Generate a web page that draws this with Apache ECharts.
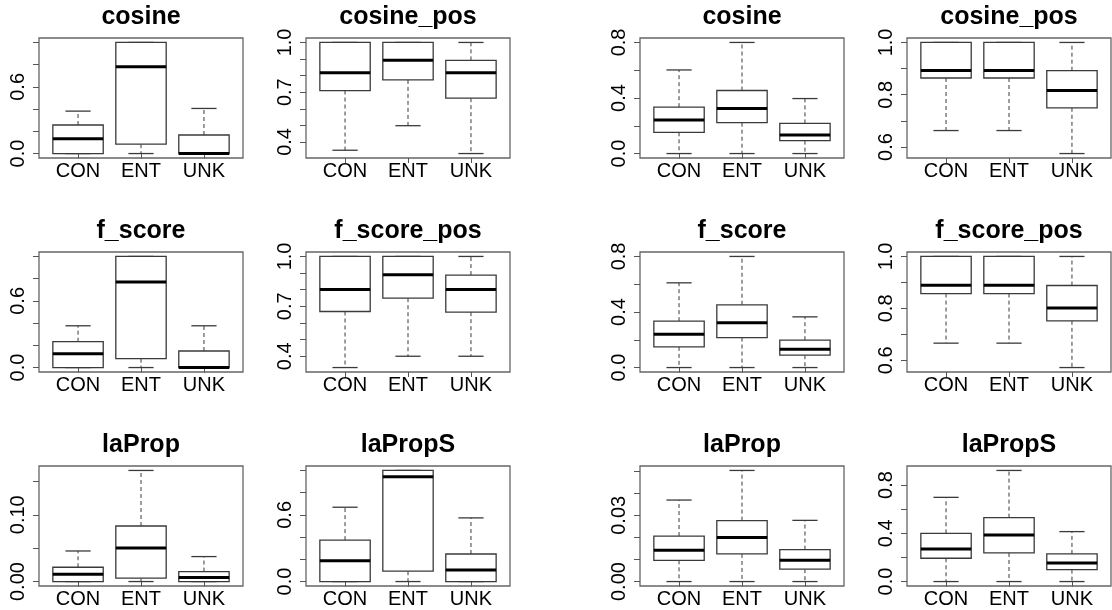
<!DOCTYPE html>
<html>
<head>
<meta charset="utf-8">
<script src="https://cdn.jsdelivr.net/npm/echarts@6/dist/echarts.min.js"></script>
<style>
  html, body { margin: 0; padding: 0; background: #fff; }
  #chart { width: 1112px; height: 610px; }
</style>
</head>
<body>
<div id="chart"></div>
<script>
// groups on the x axis of every panel
const groups = ['CON', 'ENT', 'UNK'];

// panel titles, row by row (left pair, right pair)
const titles = ['cosine', 'cosine_pos', 'cosine', 'cosine_pos',
  'f_score', 'f_score_pos', 'f_score', 'f_score_pos',
  'laProp', 'laPropS', 'laProp', 'laPropS'];

// box stats per group: [lower whisker, Q1, median, Q3, upper whisker]
const cosineL = [[0, 0, 0.134, 0.257, 0.382], [0, 0.084, 0.782, 1, 1], [0, 0, 0, 0.167, 0.406]];
const cosinePosL = [[0.35, 0.71, 0.818, 1, 1], [0.498, 0.774, 0.892, 1, 1], [0.33, 0.664, 0.818, 0.892, 1]];
const cosineR = [[0, 0.153, 0.241, 0.334, 0.602], [0, 0.222, 0.325, 0.454, 0.8], [0, 0.093, 0.134, 0.217, 0.396]];
const cosinePosR = [[0.663, 0.864, 0.893, 1, 1], [0.663, 0.864, 0.893, 1, 1], [0.575, 0.75, 0.816, 0.892, 1]];
const fScoreL = [[0, 0, 0.125, 0.233, 0.376], [0, 0.08, 0.77, 1, 1], [0, 0, 0, 0.149, 0.376]];
const fScorePosL = [[0.332, 0.669, 0.801, 1, 1], [0.4, 0.749, 0.89, 1, 1], [0.4, 0.665, 0.801, 0.888, 1]];
const fScoreR = [[0, 0.149, 0.24, 0.334, 0.61], [0, 0.216, 0.322, 0.452, 0.8], [0, 0.089, 0.132, 0.197, 0.365]];
const fScorePosR = [[0.666, 0.857, 0.889, 1, 1], [0.666, 0.857, 0.889, 1, 1], [0.572, 0.752, 0.801, 0.888, 1]];
const laPropL = [[0, 0, 0.011, 0.0214, 0.0458], [0, 0.005, 0.0503, 0.0832, 0.1664], [0, 0, 0.006, 0.015, 0.0374]];
const laPropSL = [[0, 0, 0.188, 0.373, 0.669], [0, 0.093, 0.943, 1, 1], [0, 0, 0.104, 0.248, 0.573]];
const laPropR = [[0, 0.0096, 0.0142, 0.0206, 0.0369], [0, 0.0125, 0.0199, 0.0276, 0.0503], [0, 0.0056, 0.0096, 0.0145, 0.0277]];
const laPropSR = [[0, 0.193, 0.27, 0.4, 0.698], [0, 0.237, 0.386, 0.53, 0.921], [0, 0.099, 0.154, 0.229, 0.414]];

const panels = [cosineL, cosinePosL, cosineR, cosinePosR,
  fScoreL, fScorePosL, fScoreR, fScorePosR,
  laPropL, laPropSL, laPropR, laPropSR];

// y tick marks and the labels R kept
const yTicks = [
  [0, 0.2, 0.4, 0.6, 0.8, 1.0], [0.4, 0.5, 0.6, 0.7, 0.8, 0.9, 1.0],
  [0, 0.2, 0.4, 0.6, 0.8], [0.6, 0.7, 0.8, 0.9, 1.0],
  [0, 0.2, 0.4, 0.6, 0.8, 1.0], [0.4, 0.5, 0.6, 0.7, 0.8, 0.9, 1.0],
  [0, 0.2, 0.4, 0.6, 0.8], [0.6, 0.7, 0.8, 0.9, 1.0],
  [0, 0.05, 0.10, 0.15], [0, 0.2, 0.4, 0.6, 0.8, 1.0],
  [0, 0.01, 0.02, 0.03, 0.04, 0.05], [0, 0.2, 0.4, 0.6, 0.8]
];
const yLabels = [
  ['0.0', '0.6'], ['0.4', '0.7', '1.0'], ['0.0', '0.4', '0.8'], ['0.6', '0.8', '1.0'],
  ['0.0', '0.6'], ['0.4', '0.7', '1.0'], ['0.0', '0.4', '0.8'], ['0.6', '0.8', '1.0'],
  ['0.00', '0.10'], ['0.0', '0.6'], ['0.00', '0.03'], ['0.0', '0.4', '0.8']
];

const colLeft = [39, 306, 640, 907];
const rowTop = [38, 252, 466];
const W = 204, H = 120;
const font = '"Liberation Sans", Arial, Helvetica, sans-serif';

function renderBox(params, api) {
  const x = api.value(0);
  const lo = api.coord([x, api.value(1)]);
  const q1 = api.coord([x, api.value(2)]);
  const md = api.coord([x, api.value(3)]);
  const q3 = api.coord([x, api.value(4)]);
  const hi = api.coord([x, api.value(5)]);
  const bw = api.size([0.8, 0])[0];
  const sw = api.size([0.4, 0])[0];
  const cx = lo[0];
  const boxStroke = { stroke: '#3a3a3a', lineWidth: 1.3 };
  return {
    type: 'group',
    children: [
      { type: 'line', shape: { x1: cx, y1: q3[1], x2: cx, y2: hi[1] }, style: { stroke: '#3a3a3a', lineWidth: 1, lineDash: [4, 3] } },
      { type: 'line', shape: { x1: cx, y1: q1[1], x2: cx, y2: lo[1] }, style: { stroke: '#3a3a3a', lineWidth: 1, lineDash: [4, 3] } },
      { type: 'line', shape: { x1: cx - sw / 2, y1: hi[1], x2: cx + sw / 2, y2: hi[1] }, style: boxStroke },
      { type: 'line', shape: { x1: cx - sw / 2, y1: lo[1], x2: cx + sw / 2, y2: lo[1] }, style: boxStroke },
      { type: 'rect', shape: { x: cx - bw / 2, y: q3[1], width: bw, height: q1[1] - q3[1] }, style: { fill: '#fff', stroke: '#3a3a3a', lineWidth: 1.3 } },
      { type: 'line', shape: { x1: cx - bw / 2, y1: md[1], x2: cx + bw / 2, y2: md[1] }, style: { stroke: '#000', lineWidth: 3 } }
    ]
  };
}

const grid = [], xAxis = [], yAxis = [], series = [], title = [];
panels.forEach((stats, i) => {
  const left = colLeft[i % 4], top = rowTop[Math.floor(i / 4)];
  const lo = Math.min(...stats.map(s => s[0]));
  const hi = Math.max(...stats.map(s => s[4]));
  const pad = (hi - lo) * 0.04;
  const labs = yLabels[i];
  grid.push({ left: left, top: top, width: W, height: H, show: true, borderColor: '#666', borderWidth: 1.3, backgroundColor: 'transparent' });
  xAxis.push({
    gridIndex: i, type: 'value', min: 0.38, max: 3.62,
    axisLine: { show: false }, splitLine: { show: false },
    axisTick: { show: true, customValues: [1, 2, 3], length: 5, lineStyle: { color: '#555' } },
    axisLabel: {
      customValues: [1, 2, 3], margin: 3, fontSize: 20, color: '#000', fontFamily: font,
      formatter: v => groups[Math.round(v) - 1]
    }
  });
  yAxis.push({
    gridIndex: i, type: 'value', min: lo - pad, max: hi + pad,
    axisLine: { show: false }, splitLine: { show: false },
    axisTick: { show: true, customValues: yTicks[i], length: 6, lineStyle: { color: '#555' } },
    axisLabel: {
      customValues: labs.map(Number), rotate: 90, margin: 11, fontSize: 20, color: '#000', fontFamily: font,
      formatter: v => {
        let best = labs[0];
        labs.forEach(l => { if (Math.abs(Number(l) - v) < Math.abs(Number(best) - v)) best = l; });
        return best;
      }
    }
  });
  series.push({
    type: 'custom', xAxisIndex: i, yAxisIndex: i,
    renderItem: renderBox,
    encode: { x: 0, y: [1, 2, 3, 4, 5] },
    data: stats.map((s, k) => [k + 1].concat(s))
  });
  title.push({
    text: titles[i], left: left + W / 2, top: top - 33, textAlign: 'center', padding: 0,
    textStyle: { fontSize: 25, fontWeight: 'bold', color: '#000', fontFamily: font }
  });
});

const chart = echarts.init(document.getElementById('chart'));
chart.setOption({
  animation: false,
  backgroundColor: '#fff',
  title: title,
  grid: grid,
  xAxis: xAxis,
  yAxis: yAxis,
  series: series
});
</script>
</body>
</html>
